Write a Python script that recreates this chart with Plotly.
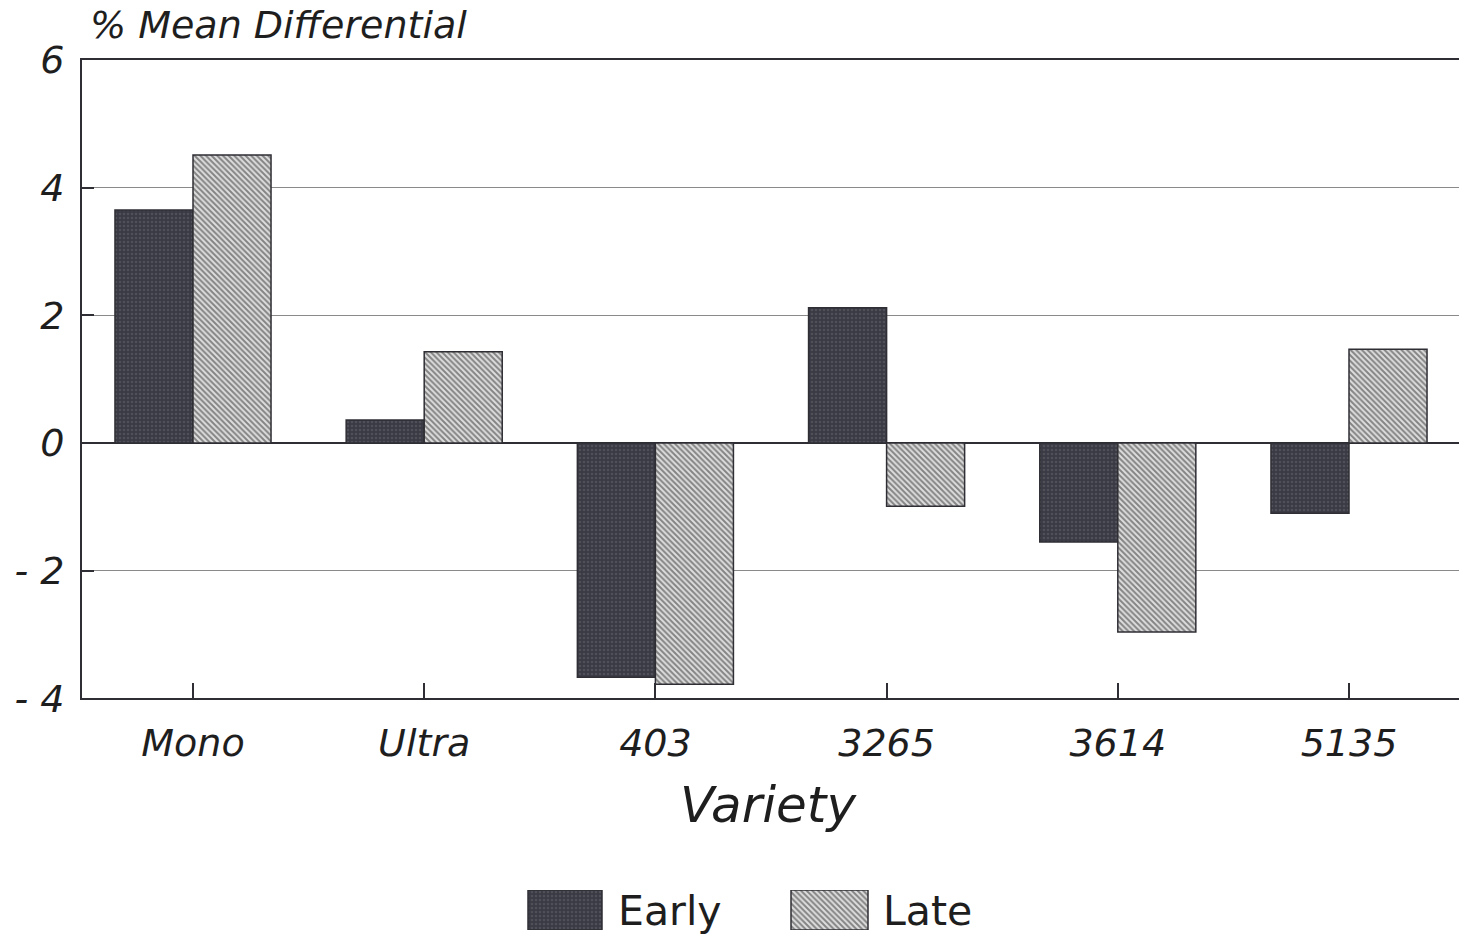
import plotly.graph_objects as go

# ---- data ----
varieties = ["Mono", "Ultra", "403", "3265", "3614", "5135"]
early = [3.65, 0.36, -3.67, 2.12, -1.55, -1.10]
late = [4.51, 1.43, -3.78, -0.99, -2.96, 1.47]
y_ticks = [-4, -2, 0, 2, 4, 6]
y_tick_text = ["- 4", "- 2", "0", "2", "4", "6"]
series_names = ["Early", "Late"]

# ---- layout constants ----
# The captured page is ~957 px tall and is fitted into 935 px, so vertical
# positions (given below in target-picture pixels) are scaled by K.
TW, TH = 1459, 935
H_CAP = 957
K = H_CAP / TH
W, H = TW, H_CAP
ML = 82
MT = round(59 * K)
MR, MB = 0, 0
PW, PH = W - ML - MR, H - MT - MB


def px_x(sx):
    return (sx - ML) / PW


def px_y(sy):
    return min(1.0, max(0.0, (H - MB - sy * K) / PH))


def px_y_free(sy):
    return (H - MB - sy * K) / PH


# category axis: category 0 at x=193, step 231.2 px
CAT0, STEP = 193.0, 231.2
x_range = [(ML - CAT0) / STEP, (ML + PW - CAT0) / STEP]

FONT = "DejaVu Sans"
TXT = "#1e1e1e"
DARK = "#2e2e34"
EARLY_BG, EARLY_FG = "#3a3a44", "#66666e"
LATE_BG, LATE_FG = "#dedede", "#2a2a2a"

early_marker = dict(color=EARLY_BG, line=dict(color=DARK, width=1.5),
                    pattern=dict(shape=".", fgcolor=EARLY_FG, bgcolor=EARLY_BG,
                                 size=4, solidity=0.35))
late_marker = dict(color=LATE_BG, line=dict(color=DARK, width=1.5),
                   pattern=dict(shape="\\", fgcolor=LATE_FG, bgcolor=LATE_BG,
                                size=4, solidity=0.5))

fig = go.Figure()
fig.add_trace(go.Bar(x=varieties, y=early, name=series_names[0],
                     showlegend=False, marker=early_marker))
fig.add_trace(go.Bar(x=varieties, y=late, name=series_names[1],
                     showlegend=False, marker=late_marker))

# legend swatches drawn as bars on a hidden helper axis in the bottom band
sw_left = [528, 791]
sw_w = [74, 77]
for i, mk in enumerate([early_marker, late_marker]):
    fig.add_trace(go.Bar(
        x=[sw_left[i]], y=[1], width=[sw_w[i]], offset=[0],
        xaxis="x2", yaxis="y2", showlegend=False, hoverinfo="skip", marker=mk,
    ))

fig.update_layout(
    width=W, height=H,
    margin=dict(l=ML, r=MR, t=MT, b=MB, pad=0),
    paper_bgcolor="white", plot_bgcolor="white",
    barmode="group", bargap=0.325, bargroupgap=0,
    font=dict(family=FONT, color=TXT),
    xaxis=dict(
        type="category", range=x_range, domain=[0, 1], anchor="y",
        showline=True, linecolor=DARK, linewidth=2, mirror=True,
        ticks="inside", ticklen=15, tickwidth=1.5, tickcolor=DARK,
        tickfont=dict(family=FONT, size=38, style="italic", color=TXT),
        ticklabelstandoff=10, showgrid=False, zeroline=False,
    ),
    yaxis=dict(
        range=[-4, 6], domain=[px_y(698), 1], anchor="x",
        tickvals=y_ticks, ticktext=y_tick_text,
        showline=True, linecolor=DARK, linewidth=2,
        ticks="inside", ticklen=12, tickwidth=1.5, tickcolor=DARK,
        tickfont=dict(family=FONT, size=38, style="italic", color=TXT),
        ticklabelstandoff=8,
        showgrid=True, gridcolor="#8a8a8a", gridwidth=1,
        zeroline=True, zerolinecolor=DARK, zerolinewidth=1.8,
    ),
    xaxis2=dict(domain=[0, 1], range=[ML, ML + PW], anchor="y2", visible=False,
                fixedrange=True),
    yaxis2=dict(domain=[px_y(930), px_y(890)], range=[0, 1], anchor="x2",
                visible=False, fixedrange=True),
    annotations=[
        dict(text="% Mean Differential", xref="paper", yref="paper",
             x=px_x(88), y=px_y_free(24), xanchor="left", yanchor="middle",
             showarrow=False,
             font=dict(family=FONT, size=38, style="italic", color=TXT)),
        dict(text="Variety", xref="paper", yref="paper",
             x=px_x(768), y=px_y_free(805), xanchor="center", yanchor="middle",
             showarrow=False,
             font=dict(family=FONT, size=50, style="italic", color=TXT)),
        dict(text=series_names[0], xref="paper", yref="paper",
             x=px_x(616), y=px_y_free(911), xanchor="left", yanchor="middle",
             showarrow=False, font=dict(family=FONT, size=41, color=TXT)),
        dict(text=series_names[1], xref="paper", yref="paper",
             x=px_x(881), y=px_y_free(911), xanchor="left", yanchor="middle",
             showarrow=False, font=dict(family=FONT, size=41, color=TXT)),
    ],
)

fig.write_html(
    "out.html",
    config={"displayModeBar": False},
    post_script="document.documentElement.style.overflow='hidden';"
                "document.body.style.margin='0';document.body.style.overflow='hidden';",
)
